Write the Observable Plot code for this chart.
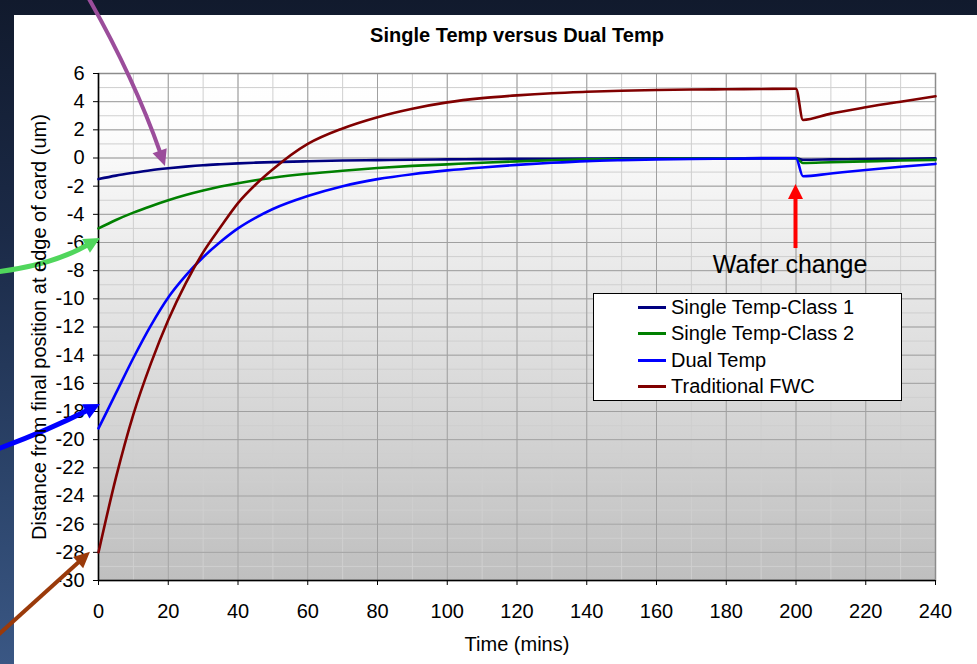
<!DOCTYPE html>
<html><head><meta charset="utf-8">
<script src="https://cdn.jsdelivr.net/npm/d3@7"></script>
<script src="https://cdn.jsdelivr.net/npm/@observablehq/plot@0.6"></script>
<style>
html,body{margin:0;padding:0;}
body{width:977px;height:664px;overflow:hidden;background:linear-gradient(to bottom,#111a2d 0%,#1b2a47 35%,#2d466d 75%,#3a5784 100%);font-family:"Liberation Sans",Arial,sans-serif;}
#wrap{position:relative;width:977px;height:664px;}
#panel{position:absolute;left:14px;top:15px;width:963px;height:649px;background:#fff;}
#chart{position:absolute;left:0;top:0;}
#legend{position:absolute;left:593px;top:293px;width:307px;height:106px;border:1px solid #000;background:#fff;}
.row{height:26.5px;display:flex;align-items:center;font-size:20px;color:#000;}
.sw{width:28px;height:3px;margin-left:44px;margin-right:5px;}
</style></head>
<body>
<div id="wrap"><div id="panel"></div><div id="chart"></div><div id="legend"></div></div>
<script>
// ---- data ----
const times  = [0,5,10,15,20,25,30,35,40,45,50,60,70,80,90,100,110,120,130,140,150,160,170,180,190,200,202,210,220,230,240];
const class1 = [-1.5,-1.25,-1.05,-0.87,-0.73,-0.61,-0.51,-0.44,-0.38,-0.33,-0.29,-0.23,-0.18,-0.15,-0.12,-0.1,-0.08,-0.06,-0.05,-0.04,-0.03,-0.03,-0.02,-0.02,-0.01,-0.01,-0.12,-0.1,-0.07,-0.05,-0.03];
const class2 = [-5.0,-4.4,-3.88,-3.42,-3.0,-2.63,-2.31,-2.03,-1.79,-1.58,-1.4,-1.12,-0.9,-0.71,-0.56,-0.45,-0.34,-0.24,-0.16,-0.1,-0.07,-0.05,-0.04,-0.03,-0.02,-0.02,-0.35,-0.3,-0.24,-0.18,-0.13];
const dual   = [-19.2,-16.7,-14.2,-11.9,-9.9,-8.35,-7.05,-5.95,-5.0,-4.25,-3.62,-2.7,-2.0,-1.5,-1.15,-0.88,-0.67,-0.49,-0.34,-0.22,-0.15,-0.1,-0.07,-0.05,-0.03,-0.02,-1.3,-1.1,-0.85,-0.62,-0.42];
const fwc    = [-28,-22.7,-18.2,-14.6,-11.5,-8.9,-6.7,-4.9,-3.2,-1.9,-0.8,1.0,2.1,2.9,3.5,3.95,4.25,4.45,4.6,4.7,4.78,4.83,4.86,4.88,4.9,4.92,2.7,3.15,3.6,4.0,4.38];
const seriesNames  = ["Single Temp-Class 1","Single Temp-Class 2","Dual Temp","Traditional FWC"];
const seriesValues = [class1, class2, dual, fwc];
const xTicks = [0,20,40,60,80,100,120,140,160,180,200,220,240];
const yTicks = [-30,-28,-26,-24,-22,-20,-18,-16,-14,-12,-10,-8,-6,-4,-2,0,2,4,6];
const titleText = "Single Temp versus Dual Temp";
const xLabel = "Time (mins)";
const yLabel = "Distance from final position at edge of card (um)";
// annotation arrows (data coordinates: from -> to)
const arrowFromT = [-2.9, -29.5, -29.5, -29.5, 200];
const arrowFromV = [11.4, -8.13, -20.77, -34.1, -6.43];
const arrowToT   = [19.2, 0.57, 0.57, -2.3, 200];
const arrowToV   = [-0.6, -5.72, -17.5, -28.0, -1.88];
const noteText = ["Wafer change"];
const noteT = [198.3];
const noteV = [-8.2];

// ---- styles ----
const seriesColors = ["#000080","#008000","#0000ff","#800000"];
const arrowStyles = [
  {color:"#9b4d9b", width:4, head:16, headW:15, bend:-0.045},
  {color:"#50d65c", width:5, head:16, headW:16, bend:0.1},
  {color:"#0000ff", width:5, head:16, headW:16, bend:0.03},
  {color:"#9a3a0a", width:4, head:16, headW:15, bend:0},
  {color:"#ff0000", width:4, head:15, headW:15, bend:0}
];

const rows = seriesNames.flatMap((name, i) => times.map((t, j) => ({t, v: seriesValues[i][j], name})));
const arrows = arrowFromT.map((_, i) => ({x1: arrowFromT[i], y1: arrowFromV[i], x2: arrowToT[i], y2: arrowToV[i], s: arrowStyles[i]}));
const notes = noteText.map((label, i) => ({label, t: noteT[i], v: noteV[i]}));

const defsMark = () => {
  const defs = d3.create("svg:defs");
  const lg = defs.append("linearGradient").attr("id","plotbg").attr("x1",0).attr("y1",0).attr("x2",0).attr("y2",1);
  lg.append("stop").attr("offset","0%").attr("stop-color","#ffffff");
  lg.append("stop").attr("offset","10%").attr("stop-color","#fdfdfd");
  lg.append("stop").attr("offset","100%").attr("stop-color","#bfbfbf");
  return defs.node();
};

const arrowMark = (index, scales) => {
  const g = d3.create("svg:g");
  for (const a of arrows) {
    const s = a.s;
    const x1 = scales.x(a.x1), y1 = scales.y(a.y1), x2 = scales.x(a.x2), y2 = scales.y(a.y2);
    const dx = x2 - x1, dy = y2 - y1, len = Math.hypot(dx, dy);
    const nx = -dy / len, ny = dx / len;
    const cx = (x1 + x2) / 2 + nx * s.bend * len, cy = (y1 + y2) / 2 + ny * s.bend * len;
    let tx = x2 - cx, ty = y2 - cy; const tl = Math.hypot(tx, ty); tx /= tl; ty /= tl;
    const bx = x2 - tx * s.head, by = y2 - ty * s.head;
    g.append("path")
      .attr("d", `M${x1},${y1}Q${cx},${cy} ${bx + tx * 2},${by + ty * 2}`)
      .attr("fill", "none").attr("stroke", s.color).attr("stroke-width", s.width);
    const hw = s.headW / 2;
    g.append("path")
      .attr("d", `M${x2},${y2}L${bx - ty * hw},${by + tx * hw}L${bx + ty * hw},${by - tx * hw}Z`)
      .attr("fill", s.color);
  }
  return g.node();
};

const minorX = d3.range(0, 241, 10);
const minorY = d3.range(-30, 7, 1);
const font = "'Liberation Sans', Arial, sans-serif";

const chart = Plot.plot({
  width: 977, height: 664,
  marginLeft: 98, marginRight: 42, marginTop: 73, marginBottom: 84,
  style: {background: "transparent", fontFamily: font, color: "#000", overflow: "visible"},
  x: {domain: [0, 240], label: null},
  y: {domain: [-30, 6], label: null},
  color: {domain: seriesNames, range: seriesColors},
  marks: [
    defsMark,
    Plot.frame({fill: "url(#plotbg)", stroke: "none"}),
    Plot.gridX(minorX, {stroke: "#cfcfcf", strokeOpacity: 1, strokeWidth: 1}),
    Plot.gridY(minorY, {stroke: "#cfcfcf", strokeOpacity: 1, strokeWidth: 1}),
    Plot.gridX(xTicks, {stroke: "#a0a0a0", strokeOpacity: 1, strokeWidth: 1}),
    Plot.gridY(yTicks, {stroke: "#a0a0a0", strokeOpacity: 1, strokeWidth: 1}),
    Plot.frame({stroke: "#8c8c8c", strokeWidth: 1.5}),
    Plot.ruleX([0], {stroke: "#000", strokeWidth: 1.5}),
    Plot.ruleY([-30], {stroke: "#000", strokeWidth: 1.5}),
    Plot.axisY({anchor: "left", ticks: yTicks, tickSize: 5, tickPadding: 9, tickFormat: d => `${d}`, fontSize: 20, label: null}),
    Plot.axisX({anchor: "bottom", ticks: xTicks, tickSize: 5, tickPadding: 18, tickFormat: d => `${d}`, fontSize: 20, label: null}),
    Plot.line(rows, {x: "t", y: "v", z: "name", stroke: "name", strokeWidth: 2.6, curve: "monotone-x"}),
    Plot.text(notes, {x: "t", y: "v", text: "label", fontSize: 25, lineAnchor: "bottom", fill: "#000"}),
    arrowMark,
    Plot.text([titleText], {text: d => d, frameAnchor: "top", textAnchor: "middle", dy: -32, lineAnchor: "bottom", fontSize: 20, fontWeight: "bold"}),
    Plot.text([xLabel], {text: d => d, frameAnchor: "bottom", textAnchor: "middle", dy: 70, lineAnchor: "bottom", fontSize: 20}),
    Plot.text([yLabel], {text: d => d, frameAnchor: "left", textAnchor: "middle", rotate: -90, dx: -53, lineAnchor: "bottom", fontSize: 20})
  ]
});
document.getElementById("chart").appendChild(chart);

const legend = document.getElementById("legend");
seriesNames.forEach((name, i) => {
  const row = document.createElement("div");
  row.className = "row";
  const sw = document.createElement("div");
  sw.className = "sw";
  sw.style.background = seriesColors[i];
  const lab = document.createElement("span");
  lab.textContent = name;
  row.appendChild(sw); row.appendChild(lab);
  legend.appendChild(row);
});
</script>
</body></html>
